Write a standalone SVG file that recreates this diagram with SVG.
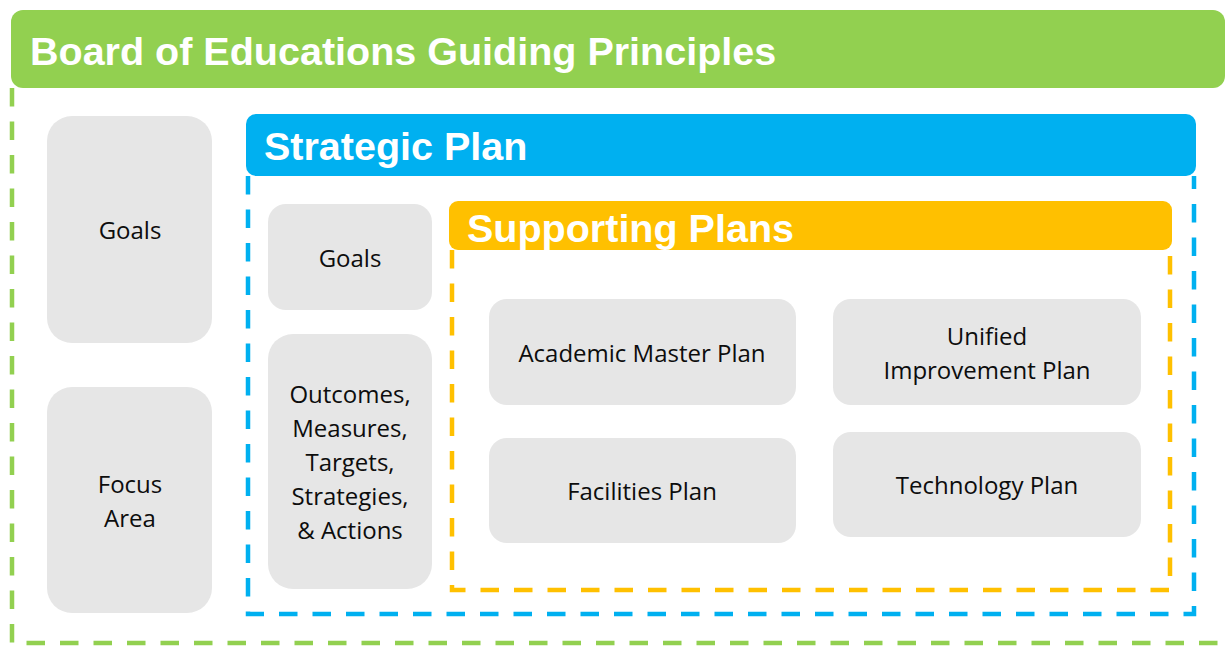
<svg xmlns="http://www.w3.org/2000/svg" width="1225" height="648" viewBox="0 0 1225 648">
<style>
.title{font-family:"Liberation Sans",Arial,sans-serif;font-weight:bold;font-size:39.5px;fill:#ffffff}
.lbl{font-family:"Open Sans","Noto Sans",sans-serif;font-size:24px;fill:#0d0d0d;text-anchor:middle}
.box{fill:#e6e6e6}
.dash{fill:none;stroke-width:4.5;stroke-dasharray:18.5 15}
</style>
<rect width="1225" height="648" fill="#ffffff"/>
<g id="connectors">
<path class="dash" stroke="#92d050" d="M12,88 V643 H1240"/>
<path class="dash" stroke="#00b0f0" d="M248,176 V614 H1194 V176"/>
<path class="dash" stroke="#ffc000" d="M452,250 V590 H1170 V250"/>
</g>
<g id="board">
<rect x="11" y="10" width="1214" height="78" rx="12" fill="#92d050"/>
<text class="title" x="30" y="65">Board of Educations Guiding Principles</text>
</g>
<g id="strategic">
<rect x="246" y="114" width="950" height="62" rx="10" fill="#00b0f0"/>
<text class="title" x="264" y="160">Strategic Plan</text>
</g>
<g id="supporting">
<rect x="449" y="201" width="723" height="49" rx="9" fill="#ffc000"/>
<text class="title" x="467" y="242">Supporting Plans</text>
</g>
<g id="goals-left">
<rect class="box" x="47" y="116" width="165" height="227" rx="25"/>
<text class="lbl" x="130" y="239">Goals</text>
</g>
<g id="focus-area">
<rect class="box" x="47" y="387" width="165" height="226" rx="25"/>
<text class="lbl" x="130" y="493">Focus</text>
<text class="lbl" x="130" y="527">Area</text>
</g>
<g id="goals-inner">
<rect class="box" x="268" y="204" width="164" height="106" rx="18"/>
<text class="lbl" x="350" y="267">Goals</text>
</g>
<g id="outcomes">
<rect class="box" x="268" y="334" width="164" height="255" rx="25"/>
<text class="lbl" x="350" y="403">Outcomes,</text>
<text class="lbl" x="350" y="437">Measures,</text>
<text class="lbl" x="350" y="471">Targets,</text>
<text class="lbl" x="350" y="505">Strategies,</text>
<text class="lbl" x="350" y="539">&amp; Actions</text>
</g>
<g id="academic">
<rect class="box" x="489" y="299" width="307" height="106" rx="18"/>
<text class="lbl" x="642" y="362">Academic Master Plan</text>
</g>
<g id="unified">
<rect class="box" x="833" y="299" width="308" height="106" rx="18"/>
<text class="lbl" x="987" y="345">Unified</text>
<text class="lbl" x="987" y="379">Improvement Plan</text>
</g>
<g id="facilities">
<rect class="box" x="489" y="438" width="307" height="105" rx="18"/>
<text class="lbl" x="642" y="500">Facilities Plan</text>
</g>
<g id="technology">
<rect class="box" x="833" y="432" width="308" height="105" rx="18"/>
<text class="lbl" x="987" y="494">Technology Plan</text>
</g>
</svg>
